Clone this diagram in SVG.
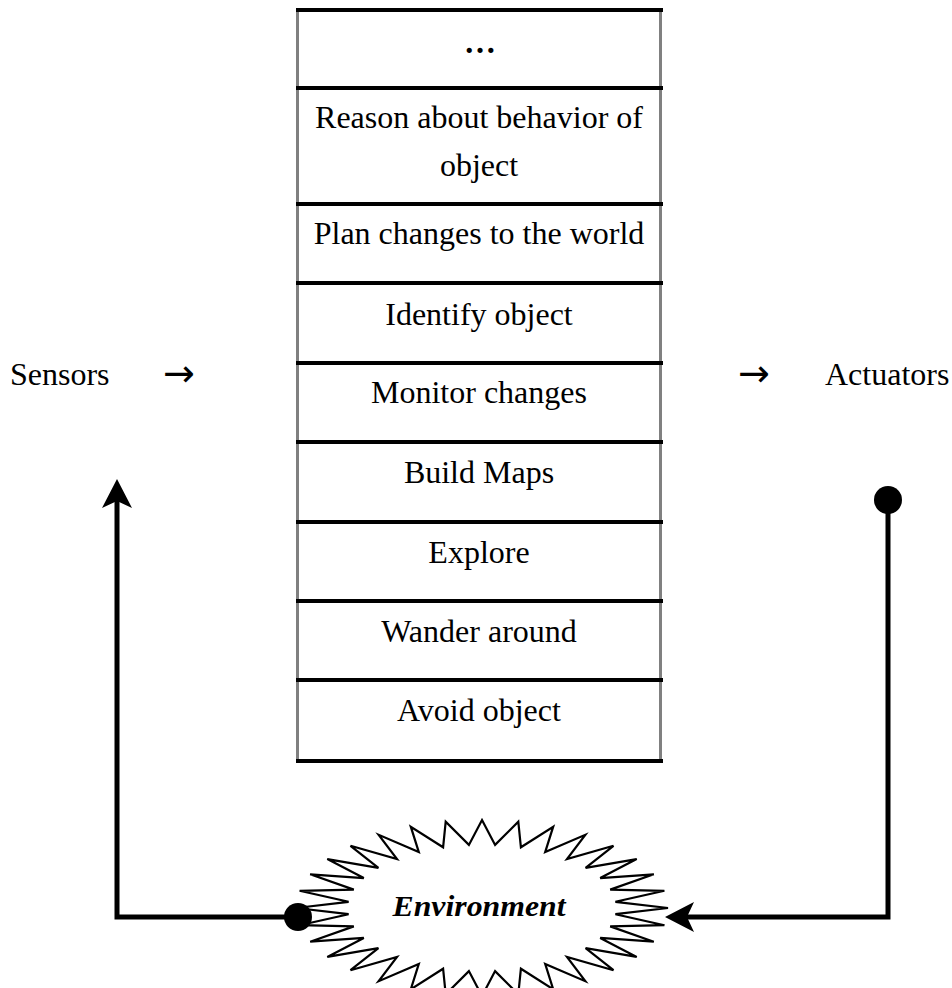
<svg xmlns="http://www.w3.org/2000/svg" width="952" height="988" viewBox="0 0 952 988">
  <style>
    .lbl { font-family: "Liberation Serif", "Times New Roman", serif; font-size: 32px; fill: #000; }
    .mid { text-anchor: middle; }
    .arrow { font-family: "DejaVu Sans", sans-serif; font-size: 38px; fill: #000; }
    .rowline { stroke: #000; stroke-width: 4; }
    .side { stroke: #808080; stroke-width: 3; }
    .wire { fill: none; stroke: #000; stroke-width: 5; stroke-linejoin: miter; }
    .env { font-family: "Liberation Serif", "Times New Roman", serif; font-size: 30px; font-weight: bold; font-style: italic; }
  </style>
  <defs>
    <marker id="head" markerUnits="userSpaceOnUse" viewBox="-30 -16 32 32" markerWidth="32" markerHeight="32" refX="-22" refY="0" orient="auto">
      <path d="M0,0 L-29,-15 L-22,0 L-29,15 Z" fill="#000"/>
    </marker>
    <marker id="dot" markerUnits="userSpaceOnUse" viewBox="-15 -15 30 30" markerWidth="30" markerHeight="30" refX="0" refY="0" orient="auto">
      <circle cx="0" cy="0" r="14" fill="#000"/>
    </marker>
  </defs>

  <rect width="952" height="988" fill="#fff"/>

  <!-- layered behaviour stack -->
  <g id="stack">
    <line class="side" x1="297.5" y1="10" x2="297.5" y2="761"/>
    <line class="side" x1="660.5" y1="10" x2="660.5" y2="761"/>
    <line class="rowline" x1="296" y1="10" x2="663" y2="10"/>
    <line class="rowline" x1="296" y1="88" x2="663" y2="88"/>
    <line class="rowline" x1="296" y1="204" x2="663" y2="204"/>
    <line class="rowline" x1="296" y1="283" x2="663" y2="283"/>
    <line class="rowline" x1="296" y1="363" x2="663" y2="363"/>
    <line class="rowline" x1="296" y1="442" x2="663" y2="442"/>
    <line class="rowline" x1="296" y1="522" x2="663" y2="522"/>
    <line class="rowline" x1="296" y1="601" x2="663" y2="601"/>
    <line class="rowline" x1="296" y1="680" x2="663" y2="680"/>
    <line class="rowline" x1="296" y1="761" x2="663" y2="761"/>
  </g>
  <g id="layer-more"><text class="lbl mid" x="480" y="53" font-weight="bold">…</text></g>
  <g id="layer-reason">
    <text class="lbl mid" x="479" y="128">Reason about behavior of</text>
    <text class="lbl mid" x="479" y="176">object</text>
  </g>
  <g id="layer-plan"><text class="lbl mid" x="479" y="244">Plan changes to the world</text></g>
  <g id="layer-identify"><text class="lbl mid" x="479" y="325">Identify object</text></g>
  <g id="layer-monitor"><text class="lbl mid" x="479" y="403">Monitor changes</text></g>
  <g id="layer-maps"><text class="lbl mid" x="479" y="483">Build Maps</text></g>
  <g id="layer-explore"><text class="lbl mid" x="479" y="563">Explore</text></g>
  <g id="layer-wander"><text class="lbl mid" x="479" y="642">Wander around</text></g>
  <g id="layer-avoid"><text class="lbl mid" x="479" y="721">Avoid object</text></g>

  <g id="sensors">
    <text class="lbl" x="10" y="385">Sensors</text>
    <text class="arrow" x="163" y="386">→</text>
  </g>
  <g id="actuators">
    <text class="arrow" x="738" y="386">→</text>
    <text class="lbl" x="825" y="385">Actuators</text>
  </g>

  <!-- environment burst: 32-point star on an ellipse -->
  <g id="environment">
    <polygon fill="#fff" stroke="#000" stroke-width="2.2" points="482,820 495.1,844.9 518.3,821.7 520.9,847.3 553.2,826.7 545.2,852.1 585.3,834.8 567,859 613.5,845.8 585.6,867.8 636.7,859.1 600.2,878.1 653.8,874.3 610.2,889.6 664.4,890.8 615.4,901.8 668,908 615.4,914.2 664.4,925.2 610.2,926.4 653.8,941.7 600.2,937.9 636.7,956.9 585.6,948.2 613.5,970.2 567,957 585.3,981.2 545.2,963.9 553.2,989.3 520.9,968.7 518.3,994.3 495.1,971.1 482,996 468.9,971.1 445.7,994.3 443.1,968.7 410.8,989.3 418.8,963.9 378.7,981.2 397,957 350.5,970.2 378.4,948.2 327.3,956.9 363.8,937.9 310.2,941.7 353.8,926.4 299.6,925.2 348.6,914.2 296,908 348.6,901.8 299.6,890.8 353.8,889.6 310.2,874.3 363.8,878.1 327.3,859.1 378.4,867.8 350.5,845.8 397,859 378.7,834.8 418.8,852.1 410.8,826.7 443.1,847.3 445.7,821.7 468.9,844.9"/>
    <text class="env mid" x="479" y="916" textLength="173" lengthAdjust="spacingAndGlyphs">Environment</text>
  </g>

  <!-- feedback loop -->
  <g id="connectors">
    <path class="wire" d="M298,917 H117 V501" marker-start="url(#dot)" marker-end="url(#head)"/>
    <path class="wire" d="M888,500 V917 H687" marker-start="url(#dot)" marker-end="url(#head)"/>
  </g>
</svg>
